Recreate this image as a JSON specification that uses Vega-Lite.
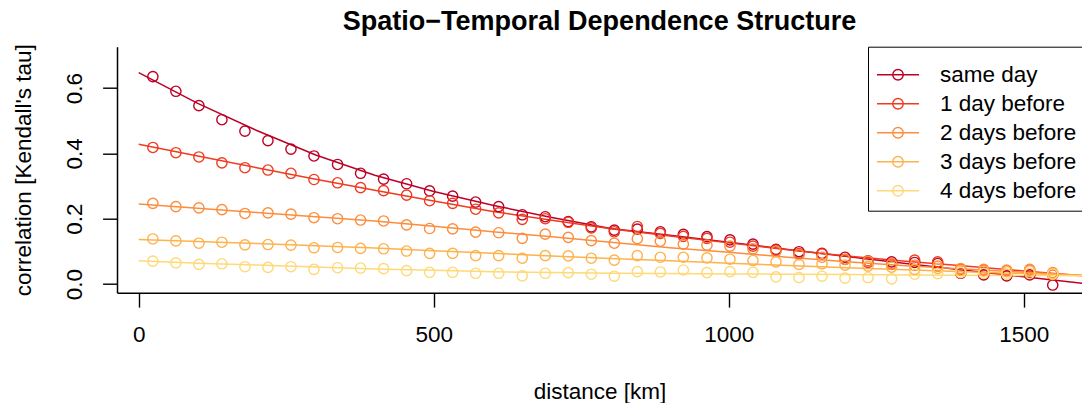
{
  "$schema": "https://vega.github.io/schema/vega-lite/v6.json",
  "width": 965,
  "height": 246,
  "autosize": {"type": "none"},
  "padding": {"left": 117, "top": 46.7, "right": 0, "bottom": 110.3},
  "background": "white",
  "title": {"text": "Spatio−Temporal Dependence Structure", "font": "Liberation Sans", "fontSize": 27, "fontWeight": "bold", "color": "black", "anchor": "middle", "frame": "group", "baseline": "alphabetic", "offset": -13.5},
  "config": {
    "view": {"stroke": null},
    "axis": {"domainColor": "black", "domainWidth": 1.5, "tickColor": "black", "tickWidth": 1.4, "tickSize": 14.4, "labelFont": "Liberation Sans", "labelFontSize": 22.5, "labelColor": "black", "titleFont": "Liberation Sans", "titleFontSize": 22.5, "titleFontWeight": "normal", "titleColor": "black", "grid": false, "labelFlush": false, "labelOverlap": false},
    "axisX": {"labelBaseline": "alphabetic", "labelPadding": 33.9, "titleBaseline": "alphabetic", "titleY": 106, "titleX": 482.5, "titleAlign": "center"},
    "axisY": {"labelAngle": 270, "labelAlign": "center", "labelBaseline": "alphabetic", "labelPadding": 20.9, "titleAngle": 270, "titleBaseline": "alphabetic", "titleX": -87, "titleY": 123, "titleAlign": "center"},
    "legend": {"orient": "none", "legendX": 751, "legendY": 0, "symbolType": "M-1,0H1M-0.25,0A0.25,0.25,0,1,1,0.25,0A0.25,0.25,0,1,1,-0.25,0", "symbolSize": 1764, "symbolStrokeWidth": 1.4, "symbolFillColor": "transparent", "labelFont": "Liberation Sans", "labelFontSize": 22.5, "labelColor": "black", "labelOffset": 20, "labelLimit": 400, "padding": 8, "rowPadding": 6, "clipHeight": 20, "fillColor": "white", "strokeColor": "black", "titleFontSize": 4, "titlePadding": 6}
  },
  "datasets": {
    "fit": [
      {"lag":"same day","d":0,"tau":0.647},{"lag":"same day","d":100,"tau":0.553},{"lag":"same day","d":200,"tau":0.470},{"lag":"same day","d":300,"tau":0.395},{"lag":"same day","d":400,"tau":0.333},{"lag":"same day","d":500,"tau":0.283},{"lag":"same day","d":600,"tau":0.241},{"lag":"same day","d":700,"tau":0.204},{"lag":"same day","d":800,"tau":0.170},{"lag":"same day","d":900,"tau":0.149},{"lag":"same day","d":1000,"tau":0.128},{"lag":"same day","d":1100,"tau":0.106},{"lag":"same day","d":1200,"tau":0.084},{"lag":"same day","d":1300,"tau":0.063},{"lag":"same day","d":1400,"tau":0.042},{"lag":"same day","d":1500,"tau":0.022},{"lag":"same day","d":1600,"tau":0.002},
      {"lag":"1 day before","d":0,"tau":0.428},{"lag":"1 day before","d":100,"tau":0.392},{"lag":"1 day before","d":200,"tau":0.356},{"lag":"1 day before","d":300,"tau":0.321},{"lag":"1 day before","d":400,"tau":0.287},{"lag":"1 day before","d":500,"tau":0.254},{"lag":"1 day before","d":600,"tau":0.222},{"lag":"1 day before","d":700,"tau":0.195},{"lag":"1 day before","d":800,"tau":0.169},{"lag":"1 day before","d":900,"tau":0.147},{"lag":"1 day before","d":1000,"tau":0.126},{"lag":"1 day before","d":1100,"tau":0.105},{"lag":"1 day before","d":1200,"tau":0.086},{"lag":"1 day before","d":1300,"tau":0.070},{"lag":"1 day before","d":1400,"tau":0.055},{"lag":"1 day before","d":1500,"tau":0.040},{"lag":"1 day before","d":1600,"tau":0.025},
      {"lag":"2 days before","d":0,"tau":0.245},{"lag":"2 days before","d":100,"tau":0.232},{"lag":"2 days before","d":200,"tau":0.219},{"lag":"2 days before","d":300,"tau":0.206},{"lag":"2 days before","d":400,"tau":0.193},{"lag":"2 days before","d":500,"tau":0.177},{"lag":"2 days before","d":600,"tau":0.160},{"lag":"2 days before","d":700,"tau":0.145},{"lag":"2 days before","d":800,"tau":0.128},{"lag":"2 days before","d":900,"tau":0.111},{"lag":"2 days before","d":1000,"tau":0.097},{"lag":"2 days before","d":1100,"tau":0.082},{"lag":"2 days before","d":1200,"tau":0.068},{"lag":"2 days before","d":1300,"tau":0.056},{"lag":"2 days before","d":1400,"tau":0.046},{"lag":"2 days before","d":1500,"tau":0.036},{"lag":"2 days before","d":1600,"tau":0.027},
      {"lag":"3 days before","d":0,"tau":0.136},{"lag":"3 days before","d":100,"tau":0.130},{"lag":"3 days before","d":200,"tau":0.124},{"lag":"3 days before","d":300,"tau":0.117},{"lag":"3 days before","d":400,"tau":0.110},{"lag":"3 days before","d":500,"tau":0.102},{"lag":"3 days before","d":600,"tau":0.094},{"lag":"3 days before","d":700,"tau":0.086},{"lag":"3 days before","d":800,"tau":0.078},{"lag":"3 days before","d":900,"tau":0.071},{"lag":"3 days before","d":1000,"tau":0.064},{"lag":"3 days before","d":1100,"tau":0.057},{"lag":"3 days before","d":1200,"tau":0.050},{"lag":"3 days before","d":1300,"tau":0.044},{"lag":"3 days before","d":1400,"tau":0.038},{"lag":"3 days before","d":1500,"tau":0.032},{"lag":"3 days before","d":1600,"tau":0.026},
      {"lag":"4 days before","d":0,"tau":0.071},{"lag":"4 days before","d":100,"tau":0.064},{"lag":"4 days before","d":200,"tau":0.058},{"lag":"4 days before","d":300,"tau":0.052},{"lag":"4 days before","d":400,"tau":0.046},{"lag":"4 days before","d":500,"tau":0.042},{"lag":"4 days before","d":600,"tau":0.038},{"lag":"4 days before","d":700,"tau":0.035},{"lag":"4 days before","d":800,"tau":0.033},{"lag":"4 days before","d":900,"tau":0.032},{"lag":"4 days before","d":1000,"tau":0.031},{"lag":"4 days before","d":1100,"tau":0.030},{"lag":"4 days before","d":1200,"tau":0.029},{"lag":"4 days before","d":1300,"tau":0.028},{"lag":"4 days before","d":1400,"tau":0.027},{"lag":"4 days before","d":1500,"tau":0.026},{"lag":"4 days before","d":1600,"tau":0.025}
    ],
    "pts": [
      {"lag":"same day","d":24,"tau":0.635},{"lag":"same day","d":63,"tau":0.590},{"lag":"same day","d":102,"tau":0.546},{"lag":"same day","d":141,"tau":0.503},{"lag":"same day","d":180,"tau":0.468},{"lag":"same day","d":219,"tau":0.439},{"lag":"same day","d":258,"tau":0.413},{"lag":"same day","d":297,"tau":0.392},{"lag":"same day","d":337,"tau":0.366},{"lag":"same day","d":376,"tau":0.339},{"lag":"same day","d":415,"tau":0.321},{"lag":"same day","d":454,"tau":0.307},{"lag":"same day","d":493,"tau":0.285},{"lag":"same day","d":532,"tau":0.269},{"lag":"same day","d":571,"tau":0.251},{"lag":"same day","d":610,"tau":0.237},{"lag":"same day","d":650,"tau":0.212},{"lag":"same day","d":689,"tau":0.206},{"lag":"same day","d":728,"tau":0.191},{"lag":"same day","d":767,"tau":0.175},{"lag":"same day","d":806,"tau":0.165},{"lag":"same day","d":845,"tau":0.168},{"lag":"same day","d":884,"tau":0.160},{"lag":"same day","d":923,"tau":0.152},{"lag":"same day","d":963,"tau":0.145},{"lag":"same day","d":1002,"tau":0.135},{"lag":"same day","d":1041,"tau":0.122},{"lag":"same day","d":1080,"tau":0.106},{"lag":"same day","d":1119,"tau":0.099},{"lag":"same day","d":1158,"tau":0.094},{"lag":"same day","d":1197,"tau":0.082},{"lag":"same day","d":1236,"tau":0.071},{"lag":"same day","d":1276,"tau":0.068},{"lag":"same day","d":1315,"tau":0.066},{"lag":"same day","d":1354,"tau":0.063},{"lag":"same day","d":1393,"tau":0.033},{"lag":"same day","d":1432,"tau":0.028},{"lag":"same day","d":1471,"tau":0.025},{"lag":"same day","d":1510,"tau":0.028},{"lag":"same day","d":1549,"tau":-0.003},
      {"lag":"1 day before","d":24,"tau":0.418},{"lag":"1 day before","d":63,"tau":0.402},{"lag":"1 day before","d":102,"tau":0.389},{"lag":"1 day before","d":141,"tau":0.371},{"lag":"1 day before","d":180,"tau":0.356},{"lag":"1 day before","d":219,"tau":0.349},{"lag":"1 day before","d":258,"tau":0.339},{"lag":"1 day before","d":297,"tau":0.320},{"lag":"1 day before","d":337,"tau":0.310},{"lag":"1 day before","d":376,"tau":0.295},{"lag":"1 day before","d":415,"tau":0.286},{"lag":"1 day before","d":454,"tau":0.272},{"lag":"1 day before","d":493,"tau":0.255},{"lag":"1 day before","d":532,"tau":0.247},{"lag":"1 day before","d":571,"tau":0.229},{"lag":"1 day before","d":610,"tau":0.218},{"lag":"1 day before","d":650,"tau":0.198},{"lag":"1 day before","d":689,"tau":0.200},{"lag":"1 day before","d":728,"tau":0.189},{"lag":"1 day before","d":767,"tau":0.172},{"lag":"1 day before","d":806,"tau":0.160},{"lag":"1 day before","d":845,"tau":0.176},{"lag":"1 day before","d":884,"tau":0.155},{"lag":"1 day before","d":923,"tau":0.146},{"lag":"1 day before","d":963,"tau":0.140},{"lag":"1 day before","d":1002,"tau":0.128},{"lag":"1 day before","d":1041,"tau":0.116},{"lag":"1 day before","d":1080,"tau":0.104},{"lag":"1 day before","d":1119,"tau":0.093},{"lag":"1 day before","d":1158,"tau":0.092},{"lag":"1 day before","d":1197,"tau":0.076},{"lag":"1 day before","d":1236,"tau":0.066},{"lag":"1 day before","d":1276,"tau":0.062},{"lag":"1 day before","d":1315,"tau":0.073},{"lag":"1 day before","d":1354,"tau":0.068},{"lag":"1 day before","d":1393,"tau":0.045},{"lag":"1 day before","d":1432,"tau":0.042},{"lag":"1 day before","d":1471,"tau":0.040},{"lag":"1 day before","d":1510,"tau":0.043},{"lag":"1 day before","d":1549,"tau":0.028},
      {"lag":"2 days before","d":24,"tau":0.247},{"lag":"2 days before","d":63,"tau":0.237},{"lag":"2 days before","d":102,"tau":0.233},{"lag":"2 days before","d":141,"tau":0.228},{"lag":"2 days before","d":180,"tau":0.216},{"lag":"2 days before","d":219,"tau":0.218},{"lag":"2 days before","d":258,"tau":0.214},{"lag":"2 days before","d":297,"tau":0.203},{"lag":"2 days before","d":337,"tau":0.200},{"lag":"2 days before","d":376,"tau":0.196},{"lag":"2 days before","d":415,"tau":0.193},{"lag":"2 days before","d":454,"tau":0.181},{"lag":"2 days before","d":493,"tau":0.170},{"lag":"2 days before","d":532,"tau":0.169},{"lag":"2 days before","d":571,"tau":0.159},{"lag":"2 days before","d":610,"tau":0.157},{"lag":"2 days before","d":650,"tau":0.140},{"lag":"2 days before","d":689,"tau":0.153},{"lag":"2 days before","d":728,"tau":0.143},{"lag":"2 days before","d":767,"tau":0.133},{"lag":"2 days before","d":806,"tau":0.125},{"lag":"2 days before","d":845,"tau":0.139},{"lag":"2 days before","d":884,"tau":0.131},{"lag":"2 days before","d":923,"tau":0.122},{"lag":"2 days before","d":963,"tau":0.119},{"lag":"2 days before","d":1002,"tau":0.116},{"lag":"2 days before","d":1041,"tau":0.108},{"lag":"2 days before","d":1080,"tau":0.100},{"lag":"2 days before","d":1119,"tau":0.090},{"lag":"2 days before","d":1158,"tau":0.082},{"lag":"2 days before","d":1197,"tau":0.075},{"lag":"2 days before","d":1236,"tau":0.070},{"lag":"2 days before","d":1276,"tau":0.062},{"lag":"2 days before","d":1315,"tau":0.058},{"lag":"2 days before","d":1354,"tau":0.055},{"lag":"2 days before","d":1393,"tau":0.047},{"lag":"2 days before","d":1432,"tau":0.045},{"lag":"2 days before","d":1471,"tau":0.043},{"lag":"2 days before","d":1510,"tau":0.045},{"lag":"2 days before","d":1549,"tau":0.035},
      {"lag":"3 days before","d":24,"tau":0.138},{"lag":"3 days before","d":63,"tau":0.132},{"lag":"3 days before","d":102,"tau":0.125},{"lag":"3 days before","d":141,"tau":0.128},{"lag":"3 days before","d":180,"tau":0.120},{"lag":"3 days before","d":219,"tau":0.121},{"lag":"3 days before","d":258,"tau":0.119},{"lag":"3 days before","d":297,"tau":0.111},{"lag":"3 days before","d":337,"tau":0.112},{"lag":"3 days before","d":376,"tau":0.109},{"lag":"3 days before","d":415,"tau":0.108},{"lag":"3 days before","d":454,"tau":0.101},{"lag":"3 days before","d":493,"tau":0.094},{"lag":"3 days before","d":532,"tau":0.094},{"lag":"3 days before","d":571,"tau":0.087},{"lag":"3 days before","d":610,"tau":0.087},{"lag":"3 days before","d":650,"tau":0.079},{"lag":"3 days before","d":689,"tau":0.087},{"lag":"3 days before","d":728,"tau":0.086},{"lag":"3 days before","d":767,"tau":0.079},{"lag":"3 days before","d":806,"tau":0.073},{"lag":"3 days before","d":845,"tau":0.087},{"lag":"3 days before","d":884,"tau":0.082},{"lag":"3 days before","d":923,"tau":0.082},{"lag":"3 days before","d":963,"tau":0.080},{"lag":"3 days before","d":1002,"tau":0.076},{"lag":"3 days before","d":1041,"tau":0.072},{"lag":"3 days before","d":1080,"tau":0.068},{"lag":"3 days before","d":1119,"tau":0.060},{"lag":"3 days before","d":1158,"tau":0.062},{"lag":"3 days before","d":1197,"tau":0.058},{"lag":"3 days before","d":1236,"tau":0.055},{"lag":"3 days before","d":1276,"tau":0.052},{"lag":"3 days before","d":1315,"tau":0.045},{"lag":"3 days before","d":1354,"tau":0.048},{"lag":"3 days before","d":1393,"tau":0.042},{"lag":"3 days before","d":1432,"tau":0.040},{"lag":"3 days before","d":1471,"tau":0.038},{"lag":"3 days before","d":1510,"tau":0.040},{"lag":"3 days before","d":1549,"tau":0.032},
      {"lag":"4 days before","d":24,"tau":0.070},{"lag":"4 days before","d":63,"tau":0.065},{"lag":"4 days before","d":102,"tau":0.060},{"lag":"4 days before","d":141,"tau":0.062},{"lag":"4 days before","d":180,"tau":0.053},{"lag":"4 days before","d":219,"tau":0.051},{"lag":"4 days before","d":258,"tau":0.053},{"lag":"4 days before","d":297,"tau":0.045},{"lag":"4 days before","d":337,"tau":0.050},{"lag":"4 days before","d":376,"tau":0.049},{"lag":"4 days before","d":415,"tau":0.047},{"lag":"4 days before","d":454,"tau":0.041},{"lag":"4 days before","d":493,"tau":0.036},{"lag":"4 days before","d":532,"tau":0.036},{"lag":"4 days before","d":571,"tau":0.033},{"lag":"4 days before","d":610,"tau":0.033},{"lag":"4 days before","d":650,"tau":0.025},{"lag":"4 days before","d":689,"tau":0.033},{"lag":"4 days before","d":728,"tau":0.035},{"lag":"4 days before","d":767,"tau":0.030},{"lag":"4 days before","d":806,"tau":0.024},{"lag":"4 days before","d":845,"tau":0.038},{"lag":"4 days before","d":884,"tau":0.037},{"lag":"4 days before","d":923,"tau":0.043},{"lag":"4 days before","d":963,"tau":0.035},{"lag":"4 days before","d":1002,"tau":0.038},{"lag":"4 days before","d":1041,"tau":0.036},{"lag":"4 days before","d":1080,"tau":0.022},{"lag":"4 days before","d":1119,"tau":0.020},{"lag":"4 days before","d":1158,"tau":0.024},{"lag":"4 days before","d":1197,"tau":0.018},{"lag":"4 days before","d":1236,"tau":0.020},{"lag":"4 days before","d":1276,"tau":0.016},{"lag":"4 days before","d":1315,"tau":0.030},{"lag":"4 days before","d":1354,"tau":0.032},{"lag":"4 days before","d":1393,"tau":0.035},{"lag":"4 days before","d":1432,"tau":0.033},{"lag":"4 days before","d":1471,"tau":0.030},{"lag":"4 days before","d":1510,"tau":0.033},{"lag":"4 days before","d":1549,"tau":0.030}
    ]
  },
  "layer": [
    {
      "mark": {"type": "rule", "color": "#BEBEBE", "strokeWidth": 1.4},
      "encoding": {"y": {"datum": 0.025, "type": "quantitative", "scale": {"domain": [-0.0265, 0.7265], "nice": false, "zero": false}, "axis": {"values": [0, 0.1, 0.2, 0.3, 0.4, 0.5, 0.6, 0.7], "format": ".1f", "labelExpr": "datum.value == 0.1 || datum.value == 0.3 || datum.value == 0.5 || datum.value == 0.7 ? '' : datum.label"}, "title": "correlation [Kendall's tau]"}}
    },
    {
      "mark": {"type": "rule", "color": "black", "strokeWidth": 1.4},
      "encoding": {"y": {"datum": 0, "type": "quantitative"}}
    },
    {
      "mark": {"type": "rule", "color": "black", "strokeWidth": 1.5},
      "encoding": {"y": {"datum": 0.7265, "type": "quantitative"}}
    },
    {
      "data": {"name": "fit"},
      "mark": {"type": "line", "strokeWidth": 1.5, "clip": true},
      "encoding": {
        "x": {"field": "d", "type": "quantitative", "scale": {"domain": [-36.8, 1598.6], "nice": false, "zero": false}, "axis": {"values": [0, 500, 1000, 1500], "format": "d"}, "title": "distance [km]"},
        "y": {"field": "tau", "type": "quantitative", "title": "correlation [Kendall's tau]"},
        "color": {"field": "lag", "type": "nominal", "scale": {"domain": ["same day", "1 day before", "2 days before", "3 days before", "4 days before"], "range": ["#BD0026", "#F03B20", "#FD8D3C", "#FEB24C", "#FED976"]}, "legend": {"title": "\u00a0"}}
      }
    },
    {
      "data": {"name": "pts"},
      "mark": {"type": "point", "filled": false, "size": 105, "strokeWidth": 1.4, "opacity": 1},
      "encoding": {
        "x": {"field": "d", "type": "quantitative", "title": "distance [km]"},
        "y": {"field": "tau", "type": "quantitative", "title": "correlation [Kendall's tau]"},
        "color": {"field": "lag", "type": "nominal", "legend": {"title": "\u00a0"}}
      }
    }
  ]
}
